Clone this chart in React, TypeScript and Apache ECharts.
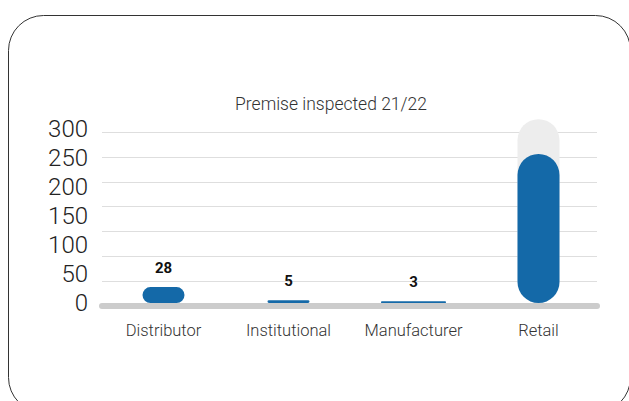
import React, { useEffect, useRef } from "react";
import * as echarts from "echarts";

const categories: string[] = ["Distributor", "Institutional", "Manufacturer", "Retail"];
const inspected: (number | null)[] = [28, 5, null, 262];
const manufacturer: (number | null)[] = [null, null, 3, null];
const retailTrack: (number | null)[] = [null, null, null, 323];
const yTickLabels: number[] = [0, 50, 100, 150, 200, 250, 300];
const titleText = "Premise inspected 21/22";

const FONT = "Roboto, 'Noto Sans', sans-serif";
const BLUE = "#1469a8";

export default function App() {
  const ref = useRef<HTMLDivElement>(null);
  useEffect(() => {
    if (!ref.current) return;
    const chart = echarts.init(ref.current, null, { renderer: "svg" });
    const yMax = yTickLabels[yTickLabels.length - 1];
    const option: any = {
      animation: false,
      backgroundColor: "#ffffff",
      textStyle: { fontFamily: FONT },
      graphic: [
        {
          type: "rect",
          shape: { x: 8.5, y: 15.5, width: 622, height: 397, r: 35 },
          style: { fill: "none", stroke: "#333333", lineWidth: 1 },
          z: 0,
          silent: true,
        },
        {
          type: "text",
          x: 331,
          y: 104,
          style: {
            text: titleText,
            fill: "#333333",
            fontSize: 17.5,
            fontWeight: 300,
            fontFamily: FONT,
            textAlign: "center",
            textVerticalAlign: "middle",
          },
        },
      ],
      grid: [
        { left: 102, right: 32, top: 132.3, bottom: 95 },
        { left: 101, right: 28, top: 132.3, bottom: 98 },
      ],
      xAxis: [
        {
          gridIndex: 0,
          type: "category",
          data: categories,
          z: 1,
          axisLine: { show: true, lineStyle: { color: "#cccccc", width: 6 } },
          axisTick: { show: false },
          axisLabel: { show: false },
        },
        {
          gridIndex: 1,
          type: "category",
          data: categories,
          axisLine: { show: false },
          axisTick: { show: false },
          axisLabel: {
            interval: 0,
            hideOverlap: false,
            fontSize: 16.5,
            fontWeight: 300,
            color: "#333333",
            fontFamily: FONT,
            margin: 19,
          },
        },
        {
          gridIndex: 1,
          type: "category",
          data: categories,
          show: false,
        },
      ],
      yAxis: [
        {
          gridIndex: 0,
          type: "value",
          min: 0,
          max: yMax,
          interval: yMax / 7,
          axisLine: { show: false },
          axisTick: { show: false },
          axisLabel: { show: false },
          splitLine: { show: true, lineStyle: { color: "#dedede", width: 1 } },
        },
        {
          gridIndex: 0,
          type: "value",
          position: "left",
          min: 0,
          max: yMax,
          interval: yTickLabels[1] - yTickLabels[0],
          axisLine: { show: false },
          axisTick: { show: false },
          splitLine: { show: false },
          axisLabel: {
            fontSize: 24,
            fontWeight: 300,
            color: "#222222",
            fontFamily: FONT,
            margin: 14,
            verticalAlign: "bottom",
            lineHeight: 6,
          },
        },
        {
          gridIndex: 1,
          type: "value",
          min: 0,
          max: yMax,
          show: false,
        },
      ],
      series: [
        {
          type: "bar",
          xAxisIndex: 1,
          yAxisIndex: 2,
          data: retailTrack,
          barWidth: 42,
          barGap: "-100%",
          clip: false,
          silent: true,
          z: 1,
          itemStyle: { color: "#ededed", borderRadius: 21 },
        },
        {
          type: "bar",
          xAxisIndex: 1,
          yAxisIndex: 2,
          data: inspected.map((v, i) => ({
            value: v,
            label: { show: i !== categories.length - 1 },
          })),
          barWidth: 42,
          barGap: "-100%",
          clip: false,
          z: 2,
          itemStyle: { color: BLUE, borderRadius: 21 },
          label: {
            show: true,
            position: "top",
            distance: 12,
            fontSize: 15,
            fontWeight: "bold",
            color: "#111111",
            fontFamily: FONT,
          },
        },
        {
          type: "bar",
          xAxisIndex: 2,
          yAxisIndex: 2,
          data: manufacturer,
          barWidth: 65,
          clip: false,
          z: 2,
          itemStyle: { color: BLUE, borderRadius: 21 },
          label: {
            show: true,
            position: "top",
            distance: 12,
            fontSize: 15,
            fontWeight: "bold",
            color: "#111111",
            fontFamily: FONT,
          },
        },
      ],
    };
    chart.setOption(option);
    return () => chart.dispose();
  }, []);
  return (
    <div
      ref={ref}
      style={{ position: "fixed", left: 0, top: 0, width: 629, height: 401, background: "#fff" }}
    />
  );
}
